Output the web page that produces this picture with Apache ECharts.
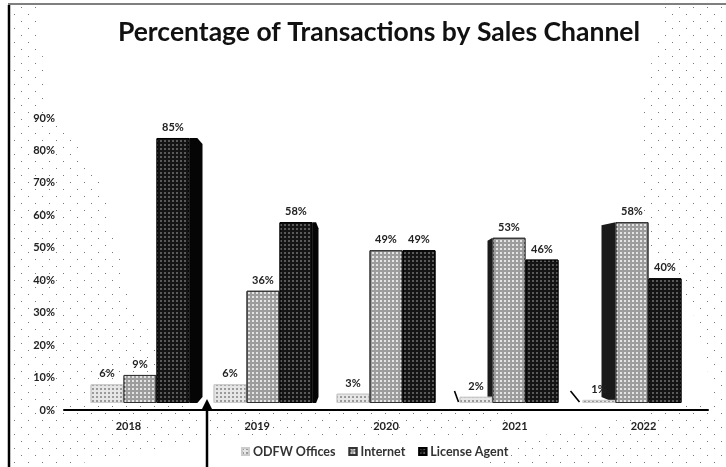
<!DOCTYPE html>
<html><head><meta charset="utf-8">
<style>html,body{margin:0;padding:0;background:#fff}#c{width:726px;height:467px}</style>
<script src="https://cdn.jsdelivr.net/npm/echarts@6/dist/echarts.min.js"></script>
</head><body><div id="c"></div>
<script>
const years = ['2018','2019','2020','2021','2022'];
const odfw = [6,6,3,2,1];
const internet = [9,36,49,53,58];
const agent = [85,58,49,46,40];
const yTicks = [0,10,20,30,40,50,60,70,80,90];
const agentSide = [13,6,0,0,0];
const internetBack = [0,0,0,5,14];
const odfwSlash = [0,0,0,5,12];

function pat(step, color, sz){
  const c=document.createElement('canvas');c.width=step;c.height=step;
  const x=c.getContext('2d');x.fillStyle=color;
  x.fillRect(0,0,sz,sz);x.fillRect(step>>1,step>>1,sz,sz);
  return {image:c,repeat:'repeat'};
}
const sparse=pat(14,'#777',1);
const dec=(color,size,a)=>({symbol:'rect',symbolSize:size,dashArrayX:[a,a],dashArrayY:[a,a],color:color,rotation:0,symbolKeepAspect:false});
const font='Lato';

const chart=echarts.init(document.getElementById('c'));
function base(name,data,color,decal,border){
  return {name,type:'bar',data,xAxisIndex:1,yAxisIndex:1,barWidth:33,barGap:0,z:3,
    itemStyle:{color,decal,borderColor:border,borderWidth:1},
    label:{show:true,position:'top',distance:5,formatter:'{c}%',fontFamily:font,fontSize:11,fontWeight:'bold',color:'#222'}};
}
const sideSeries={
  type:'custom',xAxisIndex:1,yAxisIndex:1,z:2,silent:true,
  data:years.map((y,i)=>[i,agent[i],internet[i],agentSide[i],internetBack[i],odfwSlash[i]]),
  renderItem(p,api){
    const top=api.coord([api.value(0),api.value(1)]), bot=api.coord([api.value(0),0]);
    const itop=api.coord([api.value(0),api.value(2)]);
    const kids=[], s=api.value(3), b=api.value(4), o=api.value(5);
    if(s>0){const x=top[0]+33+16.5;
      kids.push({type:'polygon',shape:{points:[[x,top[1]],[x+s*0.6,top[1]],[x+s,top[1]+6],[x+s,bot[1]-6],[x+s*0.6,bot[1]],[x,bot[1]]]},style:{fill:'#050505'}});}
    if(b>0){const x=itop[0]-16.5;
      kids.push({type:'polygon',shape:{points:[[x,itop[1]],[x-b,itop[1]+3],[x-b,bot[1]-6],[x,bot[1]]]},style:{fill:'#1a1a1a'}});}
    if(o>0){const x=bot[0]-49.5;
      kids.push({type:'line',shape:{x1:x-o,y1:bot[1]-12,x2:x-o+(o>6?9:4),y2:bot[1]-1},style:{stroke:'#000',lineWidth:1.6}});}
    return {type:'group',children:kids};
  }
};
chart.setOption({
  animation:false,backgroundColor:'#fff',
  title:{text:'Percentage of Transactions by Sales Channel',left:374,top:14,textAlign:'center',
    textStyle:{fontFamily:font,fontSize:26.5,fontWeight:'bold',color:'#111'}},
  legend:{data:['ODFW Offices','Internet','License Agent'],left:236,top:440,itemWidth:7,itemHeight:7,itemGap:13,icon:'rect',
    textStyle:{fontFamily:font,fontSize:12.5,fontWeight:'bold',color:'#333',padding:[0,0,0,-1]}},
  grid:[{left:64,width:644,top:118,height:292},{left:78.5,width:615,top:122.4,height:280.6}],
  xAxis:[
    {type:'category',gridIndex:0,data:years,axisTick:{show:false},axisLine:{lineStyle:{color:'#000',width:2}},
     axisLabel:{fontFamily:font,fontSize:11,fontWeight:'bold',color:'#222',margin:11}},
    {type:'category',gridIndex:1,data:years,show:false}
  ],
  yAxis:[
    {type:'value',gridIndex:0,min:yTicks[0],max:yTicks[yTicks.length-1],interval:10,splitLine:{show:false},axisLine:{show:false},axisTick:{show:false},
     axisLabel:{formatter:'{value}%',fontFamily:font,fontSize:11,fontWeight:'bold',color:'#222',margin:9}},
    {type:'value',gridIndex:1,min:0,max:90,show:false}
  ],
  series:[
    base('ODFW Offices',odfw,'#e6e6e6',dec('#9a9a9a',1,1.5),'#ccc'),
    base('Internet',internet,'#9c9c9c',dec('#e4e4e4',1,1.5),'#333'),
    base('License Agent',agent,'#141414',dec('#5a5a5a',1,1.5),'#000'),
    sideSeries
  ],
  graphic:[
    {type:'polygon',z:-1,shape:{points:[[11,6],[38,6],[48,110],[100,175],[130,300],[190,400],[205,440],[60,467],[11,467]]},style:{fill:sparse}},
    {type:'polygon',z:-1,shape:{points:[[725,6],[665,6],[640,110],[640,240],[690,300],[715,400],[520,440],[480,467],[725,467]]},style:{fill:sparse}},
    {type:'polygon',z:-1,shape:{points:[[210,412],[520,412],[480,436],[210,436]]},style:{fill:sparse}},
    {type:'line',z:10,shape:{x1:9,y1:5,x2:9,y2:467},style:{stroke:'#000',lineWidth:2.5}},
    {type:'line',z:10,shape:{x1:8,y1:4,x2:726,y2:4},style:{stroke:'#555',lineWidth:1.5}},
    {type:'line',z:10,shape:{x1:207,y1:467,x2:207,y2:406},style:{stroke:'#000',lineWidth:2.5}},
    {type:'polygon',z:10,shape:{points:[[207,399],[202,409],[212,409]]},style:{fill:'#000'}}
  ]
});
</script></body></html>
